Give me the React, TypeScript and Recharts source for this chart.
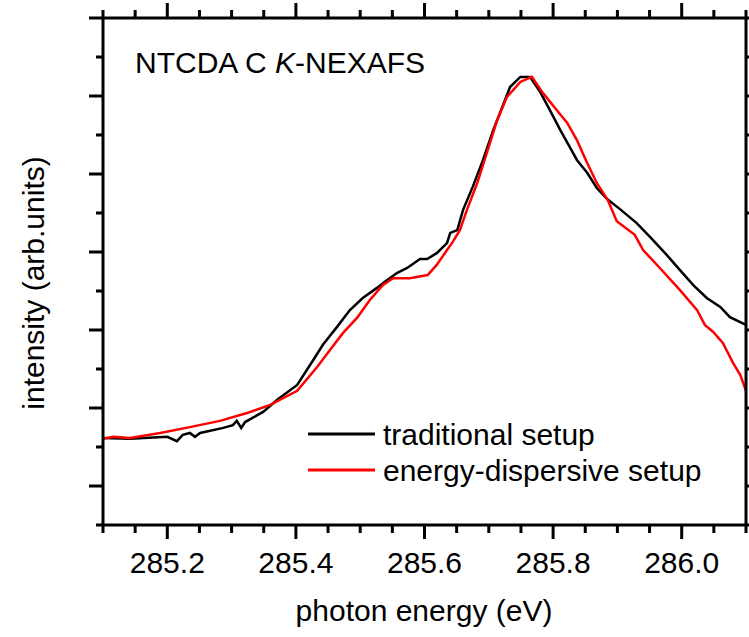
import React from 'react';
import { LineChart, Line, XAxis, YAxis } from 'recharts';

// photon energy (eV) / intensity (arb. units) for the traditional setup
const tradEnergy = [
  285.1, 285.142, 285.2, 285.215, 285.224, 285.235, 285.243, 285.251, 285.287, 285.302,
  285.308, 285.315, 285.321, 285.349, 285.371, 285.402, 285.427, 285.442, 285.464, 285.484,
  285.504, 285.526, 285.542, 285.557, 285.573, 285.593, 285.604, 285.619, 285.635, 285.64,
  285.651, 285.66, 285.675, 285.691, 285.707, 285.721, 285.733, 285.749, 285.764, 285.78,
  285.795, 285.811, 285.826, 285.837, 285.853, 285.868, 285.884, 285.904, 285.93, 285.951,
  285.977, 285.997, 286.018, 286.039, 286.06, 286.075, 286.1,
];
const tradIntensity = [
  2.23, 2.21, 2.26, 2.15, 2.31, 2.36, 2.26, 2.36, 2.49, 2.56,
  2.67, 2.49, 2.64, 2.9, 3.21, 3.59, 4.23, 4.62, 5.08, 5.51,
  5.82, 6.08, 6.28, 6.46, 6.59, 6.82, 6.82, 6.97, 7.23, 7.49,
  7.56, 8.08, 8.67, 9.36, 10.13, 10.72, 11.23, 11.49, 11.49, 11.1,
  10.64, 10.13, 9.69, 9.36, 9.03, 8.64, 8.36, 8.1, 7.74, 7.38,
  6.92, 6.54, 6.15, 5.82, 5.59, 5.33, 5.13,
];

// same spectrum recorded with the energy-dispersive setup
const dispEnergy = [
  285.1, 285.116, 285.142, 285.189, 285.235, 285.282, 285.324, 285.36, 285.402, 285.433,
  285.453, 285.473, 285.495, 285.515, 285.535, 285.551, 285.577, 285.605, 285.619, 285.635,
  285.644, 285.655, 285.666, 285.682, 285.697, 285.713, 285.728, 285.749, 285.767, 285.784,
  285.803, 285.822, 285.837, 285.853, 285.868, 285.885, 285.899, 285.927, 285.94, 285.966,
  285.997, 286.024, 286.036, 286.049, 286.064, 286.08, 286.091, 286.1,
];
const dispIntensity = [
  2.21, 2.26, 2.23, 2.36, 2.51, 2.67, 2.87, 3.08, 3.44, 4.05,
  4.49, 4.92, 5.31, 5.77, 6.15, 6.33, 6.33, 6.41, 6.67, 7.05,
  7.26, 7.56, 8.08, 8.77, 9.54, 10.38, 10.97, 11.36, 11.49, 11.08,
  10.69, 10.31, 9.87, 9.28, 8.77, 8.33, 7.79, 7.44, 7.05, 6.59,
  6.03, 5.51, 5.13, 4.95, 4.67, 4.15, 3.85, 3.44,
];

const xTicks = [
  285.1, 285.15, 285.2, 285.25, 285.3, 285.35, 285.4, 285.45, 285.5, 285.55, 285.6,
  285.65, 285.7, 285.75, 285.8, 285.85, 285.9, 285.95, 286.0, 286.05, 286.1,
];
const yTicks = [0, 1, 2, 3, 4, 5, 6, 7, 8, 9, 10, 11, 12, 13];

const tradData = tradEnergy.map((e, i) => ({ e, v: tradIntensity[i] }));
const dispData = dispEnergy.map((e, i) => ({ e, v: dispIntensity[i] }));

const FONT = '"Liberation Sans", Arial, Helvetica, sans-serif';

const isMajorX = (v: number) => Math.abs(v * 5 - Math.round(v * 5)) < 1e-6;

const BottomTick = ({ x, y, payload }: any) => {
  const major = isMajorX(payload.value);
  return (
    <g>
      <line x1={x} x2={x} y1={y} y2={y + (major ? 14 : 8)} stroke="#000" strokeWidth={3} />
      {major && (
        <text x={x} y={y + 48} textAnchor="middle" fontSize={30} fontFamily={FONT} fill="#000">
          {payload.value.toFixed(1)}
        </text>
      )}
    </g>
  );
};

const TopTick = ({ x, y, payload }: any) => {
  const major = isMajorX(payload.value);
  return <line x1={x} x2={x} y1={y} y2={y - (major ? 15 : 8)} stroke="#000" strokeWidth={3} />;
};

const LeftTick = ({ x, y, payload }: any) => {
  const long = payload.value % 2 === 1;
  return <line x1={x} x2={x - (long ? 14 : 7)} y1={y} y2={y} stroke="#000" strokeWidth={3} />;
};

const RightTick = ({ x, y }: any) => (
  <line x1={x} x2={x + 8} y1={y} y2={y} stroke="#000" strokeWidth={3} />
);

const axisLine = { stroke: '#000', strokeWidth: 3 };

export default function App() {
  // fixed at the window origin so the frame can reach the window edges
  return (
    <div style={{ position: 'fixed', left: 0, top: 0, width: 749, height: 637, background: '#fff' }}>
      <LineChart width={749} height={637} margin={{ top: 0, right: 0, bottom: 0, left: 0 }}>
        <XAxis
          xAxisId="bottom"
          type="number"
          dataKey="e"
          domain={[285.1, 286.1]}
          ticks={xTicks}
          allowDataOverflow
          height={112}
          tickSize={0}
          tickMargin={0}
          tickLine={false}
          axisLine={axisLine}
          tick={<BottomTick />}
          interval={0}
        />
        <XAxis
          xAxisId="top"
          orientation="top"
          type="number"
          dataKey="e"
          domain={[285.1, 286.1]}
          ticks={xTicks}
          allowDataOverflow
          height={18}
          tickSize={0}
          tickMargin={0}
          tickLine={false}
          axisLine={axisLine}
          tick={<TopTick />}
          interval={0}
        />
        <YAxis
          yAxisId="left"
          type="number"
          domain={[0, 13]}
          ticks={yTicks}
          allowDataOverflow
          width={103}
          tickSize={0}
          tickMargin={0}
          tickLine={false}
          axisLine={axisLine}
          tick={<LeftTick />}
          interval={0}
        />
        <YAxis
          yAxisId="right"
          orientation="right"
          type="number"
          domain={[0, 13]}
          ticks={yTicks}
          allowDataOverflow
          width={3}
          tickSize={0}
          tickMargin={0}
          tickLine={false}
          axisLine={axisLine}
          tick={<RightTick />}
          interval={0}
        />
        <Line
          data={tradData}
          xAxisId="bottom"
          yAxisId="left"
          dataKey="v"
          type="linear"
          stroke="#000"
          strokeWidth={2.5}
          dot={false}
          isAnimationActive={false}
        />
        <Line
          data={dispData}
          xAxisId="bottom"
          yAxisId="left"
          dataKey="v"
          type="linear"
          stroke="#ff0000"
          strokeWidth={2.5}
          dot={false}
          isAnimationActive={false}
        />
      </LineChart>

      {/* title, legend and axis titles */}
      <svg
        width={749}
        height={637}
        style={{ position: 'absolute', left: 0, top: 0, pointerEvents: 'none' }}
        fontFamily={FONT}
        fontSize={30}
      >
        <text x={135} y={73} fill="#000">
          NTCDA C <tspan fontStyle="italic">K</tspan>-NEXAFS
        </text>

        <line x1={308} x2={375} y1={434} y2={434} stroke="#000" strokeWidth={3} />
        <text x={383} y={445} fill="#000">traditional setup</text>
        <line x1={308} x2={375} y1={470} y2={470} stroke="#ff0000" strokeWidth={3} />
        <text x={383} y={481} fill="#000">energy-dispersive setup</text>

        <text x={424} y={621} textAnchor="middle" fill="#000">photon energy (eV)</text>
        <text x={44} y={283} textAnchor="middle" transform="rotate(-90, 44, 283)" fill="#000">
          intensity (arb.units)
        </text>
      </svg>
    </div>
  );
}
